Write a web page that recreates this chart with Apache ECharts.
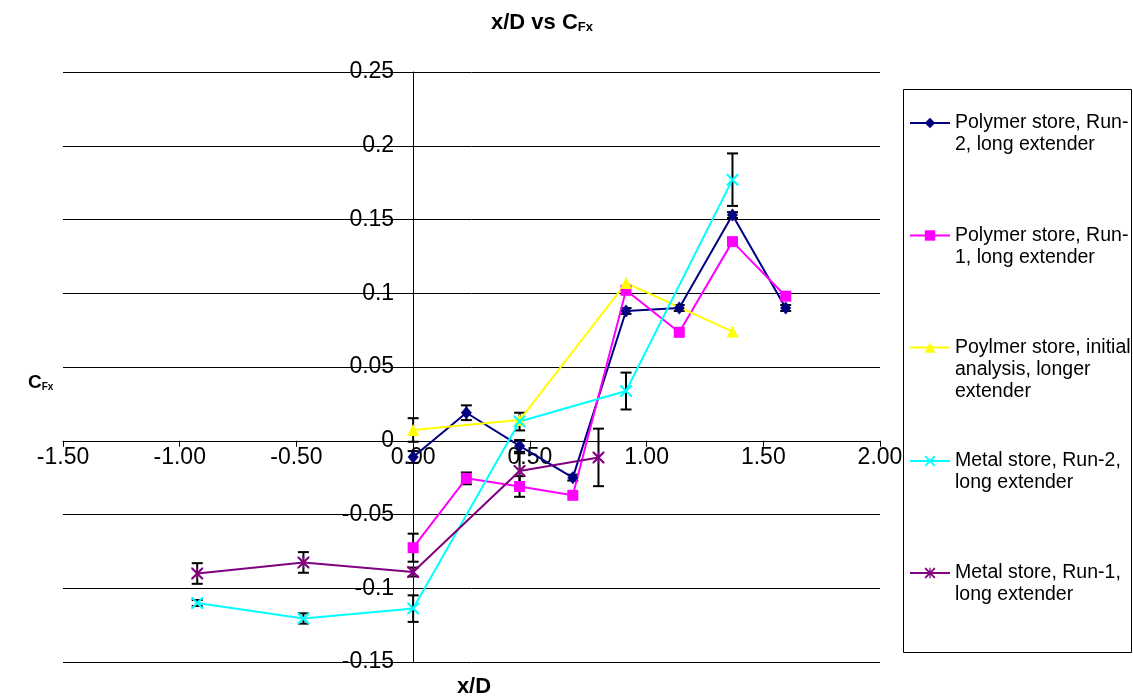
<!DOCTYPE html>
<html>
<head>
<meta charset="utf-8">
<script src="https://cdn.jsdelivr.net/npm/echarts@6/dist/echarts.min.js"></script>
<style>
html,body{margin:0;padding:0;background:#fff;}
#c{width:1133px;height:696px;}
</style>
</head>
<body>
<div id="c"></div>
<script>
// ---- data ----
const seriesNames = [
  'Polymer store, Run-2, long extender',
  'Polymer store, Run-1, long extender',
  'Poylmer store, initial analysis, longer extender',
  'Metal store, Run-2, long extender',
  'Metal store, Run-1, long extender'
];
const legendLabels = [
  ['Polymer store, Run-', '2, long extender'],
  ['Polymer store, Run-', '1, long extender'],
  ['Poylmer store, initial', 'analysis, longer', 'extender'],
  ['Metal store, Run-2,', 'long extender'],
  ['Metal store, Run-1,', 'long extender']
];
const polyRun2X = [0, 0.228, 0.456, 0.684, 0.912, 1.14, 1.368, 1.596];
const polyRun2Y = [-0.011, 0.019, -0.0035, -0.025, 0.088, 0.090, 0.153, 0.090];
const polyRun2Err = [0.004, 0.005, 0.004, 0.002, 0.002, 0.002, 0.002, 0.002];

const polyRun1X = [0, 0.228, 0.456, 0.684, 0.912, 1.14, 1.368, 1.596];
const polyRun1Y = [-0.0725, -0.0255, -0.031, -0.037, 0.102, 0.0735, 0.135, 0.098];
const polyRun1Err = [0.0095, 0.004, 0.007, 0, 0, 0, 0, 0];

const initialX = [0, 0.456, 0.912, 1.368];
const initialY = [0.0073, 0.014, 0.107, 0.074];
const initialErr = [0.008, 0, 0, 0];

const metalRun2X = [-0.925, -0.47, 0, 0.456, 0.912, 1.368];
const metalRun2Y = [-0.110, -0.1205, -0.1138, 0.013, 0.0337, 0.177];
const metalRun2Err = [0.002, 0.0035, 0.009, 0.006, 0.0125, 0.0178];

const metalRun1X = [-0.925, -0.47, 0, 0.456, 0.794];
const metalRun1Y = [-0.090, -0.0825, -0.089, -0.0205, -0.0113];
const metalRun1Err = [0.007, 0.007, 0.003, 0.012, 0.0195];

const xTicks = [-1.5, 2.0, 0.5];   // min, max, interval
const yTicks = [-0.15, 0.25, 0.05];

// ---- chart ----
const FONT = "'Liberation Sans', Arial, sans-serif";
const W = 1133, H = 696;
const G = { left: 63, right: 253, top: 72, bottom: 34 };
const gw = W - G.left - G.right, gh = H - G.top - G.bottom;
// axes cross at zero (as in the original): shift each axis from its grid edge to the zero position
const yAxisOffset = -((0 - xTicks[0]) / (xTicks[1] - xTicks[0])) * gw;
const xAxisOffset = -((0 - yTicks[0]) / (yTicks[1] - yTicks[0])) * gh;

const colors = ['#000080', '#FF00FF', '#FFFF00', '#00FFFF', '#800080'];
const xSym = 'path://M0,0 L2.5,0 L10,7.5 L17.5,0 L20,0 L20,2.5 L12.5,10 L20,17.5 L20,20 L17.5,20 L10,12.5 L2.5,20 L0,20 L0,17.5 L7.5,10 L0,2.5 Z';
const starSym = 'path://M0,0 L2.5,0 L10,7.5 L17.5,0 L20,0 L20,2.5 L12.5,10 L20,17.5 L20,20 L17.5,20 L10,12.5 L2.5,20 L0,20 L0,17.5 L7.5,10 L0,2.5 Z M8.8,0 L11.2,0 L11.2,20 L8.8,20 Z';
const symbols = ['diamond', 'rect', 'triangle', xSym, starSym];
const symSizes = [[11, 13], 11, 12, 12, 12];

const xs = [polyRun2X, polyRun1X, initialX, metalRun2X, metalRun1X];
const ys = [polyRun2Y, polyRun1Y, initialY, metalRun2Y, metalRun1Y];
const errs = [polyRun2Err, polyRun1Err, initialErr, metalRun2Err, metalRun1Err];

const series = [];
for (let s = 0; s < 5; s++) {
  const errData = [];
  xs[s].forEach((x, i) => { if (errs[s][i] > 0) errData.push([x, ys[s][i] - errs[s][i], ys[s][i] + errs[s][i]]); });
  series.push({
    type: 'custom',
    name: 'err' + s,
    z: 1,
    silent: true,
    encode: { x: 0, y: [1, 2] },
    data: errData,
    renderItem: function (params, api) {
      const lo = api.coord([api.value(0), api.value(1)]);
      const hi = api.coord([api.value(0), api.value(2)]);
      const w = 5.5;
      const st = { stroke: '#000', lineWidth: 2 };
      return {
        type: 'group', children: [
          { type: 'line', shape: { x1: lo[0], y1: lo[1], x2: hi[0], y2: hi[1] }, style: st },
          { type: 'line', shape: { x1: lo[0] - w, y1: lo[1], x2: lo[0] + w, y2: lo[1] }, style: st },
          { type: 'line', shape: { x1: hi[0] - w, y1: hi[1], x2: hi[0] + w, y2: hi[1] }, style: st }
        ]
      };
    }
  });
}
for (let s = 0; s < 5; s++) {
  series.push({
    type: 'line',
    name: seriesNames[s],
    z: 3,
    data: xs[s].map((x, i) => [x, ys[s][i]]),
    symbol: symbols[s],
    symbolSize: symSizes[s],
    showAllSymbol: true,
    color: colors[s],
    lineStyle: { width: 2, color: colors[s] },
    itemStyle: { color: colors[s] },
    emphasis: { disabled: true },
    animation: false
  });
}

// legend: icon sits beside the first text line (blank lines prepended to balance the centred block)
const iconCenters = [123, 235.5, 347.5, 461, 573];
const LH = 22;
const legends = seriesNames.map((n, i) => {
  const lines = legendLabels[i];
  const blank = lines.length - 1;
  const total = (lines.length + blank) * LH;
  return {
    data: [n],
    left: 909,
    top: iconCenters[i] - total / 2,
    padding: 0,
    orient: 'vertical',
    itemWidth: 40,
    itemHeight: 13,
    itemGap: 0,
    selectedMode: false,
    formatter: function () { return new Array(blank).fill(' ').concat(lines).join('\n'); },
    textStyle: { fontFamily: FONT, fontSize: 19.5, lineHeight: LH, color: '#000' }
  };
});

const chart = echarts.init(document.getElementById('c'), null, { renderer: 'canvas' });
chart.setOption({
  backgroundColor: '#fff',
  animation: false,
  title: [
    {
      text: 'x/D vs C{sub|Fx}',
      left: 537, top: 7, textAlign: 'center',
      textStyle: {
        fontFamily: FONT, fontSize: 22, fontWeight: 'bold', color: '#000',
        rich: { sub: { fontFamily: FONT, fontSize: 13, fontWeight: 'bold', verticalAlign: 'bottom', padding: [9, 0, 0, 0] } }
      }
    },
    {
      text: 'C{sub|Fx}',
      left: 23, top: 368,
      textStyle: {
        fontFamily: FONT, fontSize: 19, fontWeight: 'bold', color: '#000',
        rich: { sub: { fontFamily: FONT, fontSize: 10, fontWeight: 'bold', verticalAlign: 'bottom', padding: [8, 0, 0, 0] } }
      }
    },
    {
      text: 'x/D',
      left: 469, top: 671, textAlign: 'center',
      textStyle: { fontFamily: FONT, fontSize: 22, fontWeight: 'bold', color: '#000' }
    }
  ],
  legend: legends,
  grid: { left: G.left, right: G.right, top: G.top, bottom: G.bottom, containLabel: false },
  xAxis: {
    type: 'value',
    position: 'bottom',
    offset: xAxisOffset,
    min: xTicks[0], max: xTicks[1], interval: xTicks[2],
    axisLine: { onZero: false, lineStyle: { color: '#000', width: 1 } },
    axisTick: { show: true, inside: false, length: 6, lineStyle: { color: '#000' } },
    axisLabel: { fontFamily: FONT, fontSize: 23, color: '#000', margin: 5, formatter: v => v.toFixed(2), showMinLabel: true, showMaxLabel: true },
    splitLine: { show: false }
  },
  yAxis: {
    type: 'value',
    position: 'left',
    offset: yAxisOffset,
    min: yTicks[0], max: yTicks[1], interval: yTicks[2],
    axisLine: { onZero: false, lineStyle: { color: '#000', width: 1 } },
    axisTick: { show: true, inside: false, length: 5, lineStyle: { color: '#000' } },
    axisLabel: { fontFamily: FONT, fontSize: 23, color: '#000', margin: 19, formatter: v => String(Math.round(v * 100) / 100) },
    splitLine: { show: true, lineStyle: { color: '#000', width: 1 } }
  },
  graphic: [
    { type: 'rect', shape: { x: 903.5, y: 89.5, width: 228, height: 563 }, style: { fill: 'none', stroke: '#000', lineWidth: 1 }, z: -1 }
  ],
  series: series
});
</script>
</body>
</html>
